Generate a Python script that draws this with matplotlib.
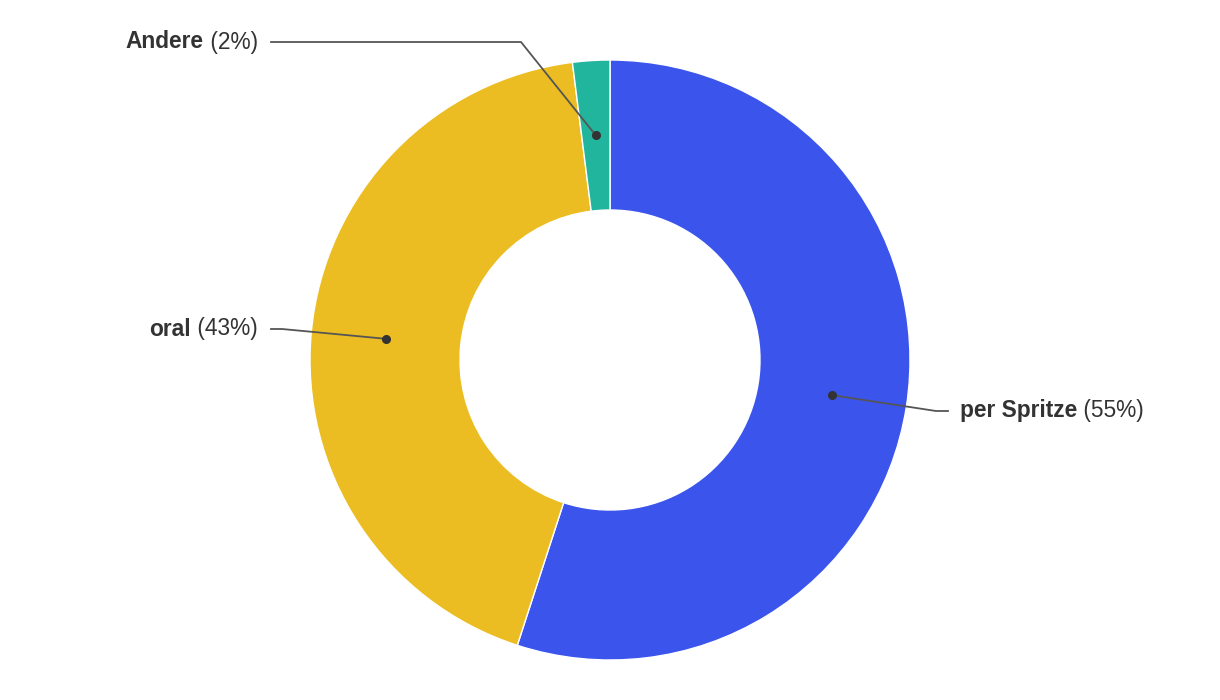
import numpy as np
import matplotlib
matplotlib.use("Agg")
import matplotlib.pyplot as plt

categories = ["per Spritze", "oral", "Andere"]
values = [55, 43, 2]
colors = ["#3A54EC", "#EBBD22", "#22B59D"]

plt.rcParams['font.family'] = ['Liberation Sans', 'DejaVu Sans']

W, H = 1220, 700
fig = plt.figure(figsize=(W / 100, H / 100), dpi=100)
ax = fig.add_axes([0, 0, 1, 1])

cx, cy = 610, 340
R, ring = 300, 150
wedges, _ = ax.pie(values, colors=colors, startangle=90, counterclock=False,
                   radius=R, center=(cx, cy), frame=True,
                   wedgeprops=dict(width=ring, edgecolor='white', linewidth=1))
ax.set_xlim(0, W)
ax.set_ylim(0, H)
ax.set_aspect('equal')
ax.axis('off')

# label layout: (elbow x, elbow y, end x, text x, side)
layout = {
    "per Spritze": (936, 289, 948, 960, 'left'),
    "oral": (282, 371, 271, 258, 'right'),
    "Andere": (521, 658, 271, 258, 'right'),
}

total = sum(values)
fig.canvas.draw()
renderer = fig.canvas.get_renderer()
fs = 16.4
tcol = '#333333'
for w, name, v in zip(wedges, categories, values):
    mid = np.deg2rad((w.theta1 + w.theta2) / 2)
    rm = R - ring / 2
    dx, dy = cx + rm * np.cos(mid), cy + rm * np.sin(mid)
    ex, ey, endx, tx, side = layout[name]
    ax.plot([dx, ex, endx], [dy, ey, ey], color='#555555', lw=1.3, zorder=5)
    ax.plot([dx], [dy], 'o', color='#333333', ms=5.5, zorder=6)
    pct = f" ({round(100 * v / total)}%)"
    by = ey - 6.5
    if side == 'right':
        t2 = ax.text(tx, by, pct, ha='right', va='baseline', fontsize=fs, color=tcol)
        bb = t2.get_window_extent(renderer)
        ax.text(bb.x0, by, name, ha='right', va='baseline', fontsize=fs,
                color=tcol, fontweight='bold')
    else:
        t1 = ax.text(tx, by, name, ha='left', va='baseline', fontsize=fs,
                     color=tcol, fontweight='bold')
        bb = t1.get_window_extent(renderer)
        ax.text(bb.x1, by, pct, ha='left', va='baseline', fontsize=fs, color=tcol)

fig.savefig("out.png", dpi=100, facecolor='white')
